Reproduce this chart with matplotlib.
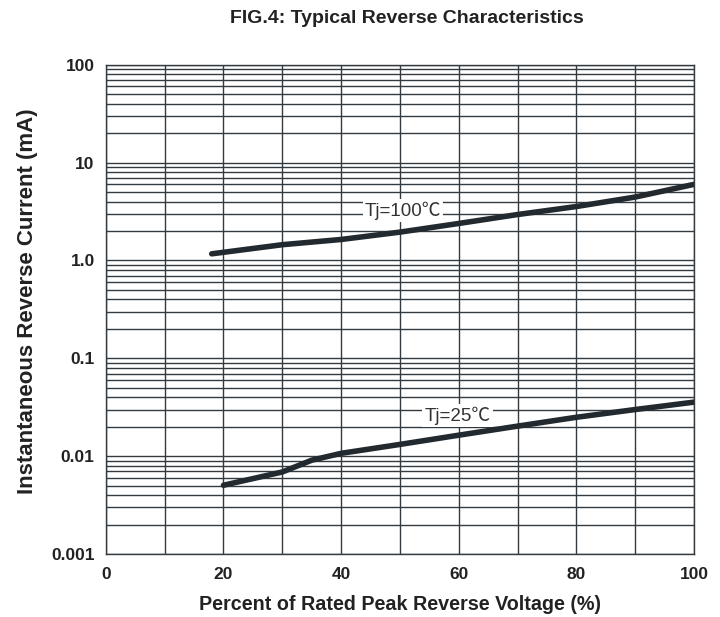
import matplotlib
matplotlib.use("Agg")
import matplotlib.pyplot as plt
from matplotlib.ticker import LogLocator, FixedLocator, NullFormatter
import numpy as np

plt.rcParams['font.family'] = ['Liberation Sans', 'DejaVu Sans']

# Data
x_100 = [18, 30, 40, 50, 60, 70, 80, 90, 100]
y_100 = [1.17, 1.45, 1.64, 1.95, 2.39, 2.95, 3.56, 4.45, 6.0]
x_25 = [20, 30, 35, 40, 50, 60, 70, 80, 90, 100]
y_25 = [0.00505, 0.0069, 0.0091, 0.0107, 0.0132, 0.0164, 0.0203, 0.025, 0.030, 0.0357]

x_ticks = [0, 20, 40, 60, 80, 100]
y_ticks = [0.001, 0.01, 0.1, 1.0, 10, 100]
y_tick_labels = ["0.001", "0.01", "0.1", "1.0", "10", "100"]

fig = plt.figure(figsize=(7.2, 6.17), dpi=100)
ax = fig.add_axes([0.147, 0.102, 0.817, 0.793])

ax.set_yscale('log')
ax.set_xlim(0, 100)
ax.set_ylim(0.001, 100)

ax.xaxis.set_major_locator(FixedLocator(x_ticks))
ax.xaxis.set_minor_locator(FixedLocator(np.arange(0, 101, 10)))
ax.yaxis.set_major_locator(FixedLocator(y_ticks))
ax.yaxis.set_minor_locator(LogLocator(base=10, subs=np.arange(2, 10)))
ax.yaxis.set_minor_formatter(NullFormatter())
ax.set_yticklabels(y_tick_labels)

ax.grid(True, which='both', axis='both', color='#333a40', linewidth=1.0)
ax.tick_params(which='both', length=0)
ax.tick_params(axis='y', labelsize=12.5, pad=8)
ax.tick_params(axis='x', labelsize=12.5, pad=9)
for lab in ax.get_xticklabels() + ax.get_yticklabels():
    lab.set_fontweight('bold')
    lab.set_color('#222222')

for s in ax.spines.values():
    s.set_color('#333a40')
    s.set_linewidth(1.0)

ax.plot(x_100, y_100, color='#222a30', linewidth=4.0, solid_capstyle='round', zorder=3)
ax.plot(x_25, y_25, color='#222a30', linewidth=4.0, solid_capstyle='round', zorder=3)

bbox = dict(facecolor='white', edgecolor='none', pad=1.5)
ax.text(50.5, 3.25, "Tj=100℃", fontsize=13.5, ha='center', va='center', color='#333333',
        family=['Liberation Sans', 'Noto Sans CJK SC', 'DejaVu Sans'], bbox=bbox, zorder=4)
ax.text(59.8, 0.026, "Tj=25℃", fontsize=13.5, ha='center', va='center', color='#333333',
        family=['Liberation Sans', 'Noto Sans CJK SC', 'DejaVu Sans'], bbox=bbox, zorder=4)

ax.set_xlabel("Percent of Rated Peak Reverse Voltage (%)", fontsize=14.2, fontweight='bold',
              color='#222222', labelpad=9.5)
ax.set_ylabel("Instantaneous Reverse Current (mA)", fontsize=16, fontweight='bold',
              color='#222222', labelpad=9)
ax.yaxis.set_label_coords(-0.116, 0.516)
fig.text(0.565, 0.97, "FIG.4: Typical Reverse Characteristics", fontsize=14, fontweight='bold',
         ha='center', va='center', color='#222222')

fig.savefig("out.png", dpi=100)
